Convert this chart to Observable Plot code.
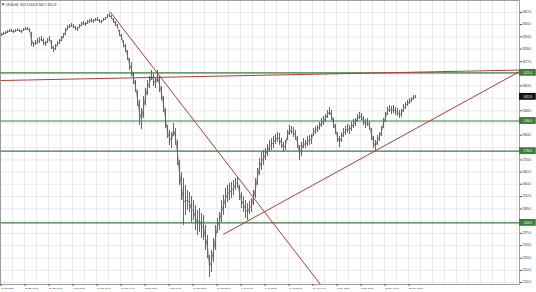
<!DOCTYPE html>
<html><head><meta charset="utf-8">
<script src="https://cdn.jsdelivr.net/npm/d3@7"></script>
<script src="https://cdn.jsdelivr.net/npm/@observablehq/plot@0.6"></script>
<style>html,body{margin:0;padding:0;background:#fff;} svg{display:block}</style>
</head><body><div id="chart"></div>
<script>
const headerText = "US500,H4  3011.8 3014.8 3007.1 3012.8";
const highs = [
3309,3314,3318,3323,3328,3328,3323,3328,3332,3328,3323,3332,3337,3337,3332,
3314,3267,3276,3285,3290,3295,3285,3271,3285,3295,3276,3248,3257,3271,3281,
3295,3309,3332,3346,3351,3356,3351,3342,3337,3351,3360,3365,3360,3370,3374,
3379,3374,3379,3384,3374,3370,3379,3384,3398,3402,3393,3379,3365,3351,3323,
3304,3276,3257,3229,3192,3173,3127,3089,3042,2996,2958,3014,3052,3089,3108,
3136,3117,3099,3136,3108,3061,3014,2958,2879,2856,2846,2888,2865,2809,2715,
2659,2631,2599,2575,2566,2547,2528,2505,2482,2491,2468,2458,2412,2365,2271,
2295,2351,2412,2444,2472,2528,2552,2585,2599,2608,2613,2622,2631,2636,2599,
2566,2547,2528,2514,2524,2538,2575,2631,2678,2725,2753,2762,2771,2790,2809,
2818,2828,2837,2846,2842,2818,2800,2809,2856,2879,2874,2870,2856,2828,2786,
2800,2818,2809,2828,2832,2837,2865,2874,2879,2893,2912,2921,2930,2949,2963,
2949,2912,2884,2846,2828,2846,2865,2874,2884,2879,2893,2907,2912,2930,2940,
2935,2921,2907,2912,2898,2865,2828,2809,2832,2846,2874,2912,2940,2963,2972,
2968,2972,2963,2958,2949,2954,2977,2986,2996,3005,3010,3019,3019];
const lows = [
3295,3300,3304,3309,3314,3314,3309,3314,3318,3314,3309,3318,3323,3323,3314,
3248,3243,3253,3257,3262,3271,3253,3248,3262,3271,3234,3220,3229,3248,3257,
3271,3285,3300,3323,3332,3337,3332,3323,3318,3332,3342,3346,3342,3351,3356,
3360,3356,3365,3365,3356,3356,3365,3370,3379,3384,3374,3356,3342,3332,3295,
3276,3243,3220,3183,3136,3108,3071,3033,2968,2879,2860,2912,2972,3019,3052,
3089,3061,3052,3080,3033,2996,2940,2865,2818,2786,2771,2828,2786,2692,2599,
2528,2412,2458,2482,2472,2426,2435,2388,2365,2379,2351,2342,2295,2257,2169,
2192,2239,2295,2374,2388,2426,2458,2491,2519,2528,2538,2552,2575,2585,2528,
2491,2472,2444,2435,2463,2472,2505,2538,2599,2645,2669,2692,2715,2734,2753,
2762,2771,2790,2800,2786,2771,2753,2762,2809,2832,2837,2823,2809,2771,2715,
2734,2771,2771,2781,2786,2790,2828,2837,2846,2856,2870,2879,2893,2912,2926,
2902,2865,2837,2800,2776,2800,2823,2832,2842,2837,2851,2865,2874,2893,2907,
2902,2879,2865,2874,2856,2809,2771,2757,2786,2804,2828,2865,2893,2926,2940,
2930,2935,2926,2921,2912,2916,2940,2954,2968,2977,2986,2996,3005];
const timeLabels = ["16 Jan 2020","23 Jan 16:00","31 Jan 00:00","7 Feb 08:00","14 Feb 16:00","24 Feb 04:00","2 Mar 12:00","9 Mar 16:00","17 Mar 08:00","24 Mar 20:00","1 Apr 04:00","8 Apr 12:00","16 Apr 20:00","24 Apr 04:00","1 May 12:00","8 May 20:00","18 May 04:00","25 May 12:00"];
const barsPerLabel = 12;
const priceTicks = [3407.0,3350.5,3293.0,3236.0,3177.0,3120.3,3063.5,3005.6,2948.0,2890.9,2834.0,2776.2,2718.0,2661.5,2604.5,2547.0,2489.0,2432.1,2375.0,2318.0,2259.0,2202.0,2145.5];
const levels = [3125.0, 2900.0, 2759.0, 2424.0];
const lastPrice = 3012.8;
const trendStartX = [0, 54.65, 111.35];
const trendStartY = [3089, 3412, 2370];
const trendEndX = [259.5, 160, 259.5];
const trendEndY = [3138, 2136, 3131];

const xMax = 259.5;
const bars = highs.map((h, k) => ({x: k + 0.5, hi: h, lo: lows[k], mid: (h + lows[k]) / 2}));
const trends = trendStartX.map((x, i) => ({x1: x, y1: trendStartY[i], x2: trendEndX[i], y2: trendEndY[i]}));
const labelPos = timeLabels.map((_, j) => j * barsPerLabel);
const gridX = d3.range(0, xMax, barsPerLabel / 2);
const tagHalf = 16;
const tagW = 8.4;
const tagged = [...levels, lastPrice];
const visibleTicks = priceTicks.filter(t => tagged.every(v => Math.abs(v - t) > 24));

const green = "#3e7b3e", red = "#b23b3b";

const chart = Plot.plot({
  width: 536, height: 292,
  marginLeft: 0, marginRight: 17, marginTop: 0, marginBottom: 8,
  style: {fontFamily: "Liberation Sans", background: "#fff", color: "#222"},
  x: {domain: [0, xMax]},
  y: {domain: [2136, 3463]},
  marks: [
    Plot.ruleX(gridX, {stroke: "#e6e6e6", strokeWidth: 0.8}),
    Plot.ruleY(priceTicks, {stroke: "#e6e6e6", strokeWidth: 0.8}),
    Plot.lineY(bars, {x: "x", y: "mid", stroke: "#8c8c8c", strokeWidth: 1}),
    Plot.ruleX(bars, {x: "x", y1: "lo", y2: "hi", stroke: "#666", strokeWidth: 1}),
    Plot.ruleY(levels, {stroke: green, strokeWidth: 1.2}),
    Plot.link(trends, {x1: "x1", y1: "y1", x2: "x2", y2: "y2", stroke: red, strokeWidth: 1}),
    Plot.frame({stroke: "#888", strokeWidth: 0.8}),
    Plot.axisY(visibleTicks, {anchor: "right", tickSize: 2, tickPadding: 1, fontSize: 2.8, tickFormat: d => d.toFixed(1), stroke: "#555"}),
    Plot.axisX(labelPos, {anchor: "bottom", tickSize: 2, tickPadding: 0.8, fontSize: 2.3, textAnchor: "start", dx: 0.5, tickFormat: (d, i) => timeLabels[i], stroke: "#555"}),
    Plot.rect(levels, {x1: () => xMax, x2: () => xMax + tagW, y1: d => d - tagHalf, y2: d => d + tagHalf, fill: green}),
    Plot.text(levels, {x: () => xMax + tagW / 2, y: d => d, text: d => d.toFixed(1), fill: "#fff", fontSize: 2.8}),
    Plot.rect([lastPrice], {x1: () => xMax, x2: () => xMax + tagW, y1: d => d - tagHalf, y2: d => d + tagHalf, fill: "#111"}),
    Plot.text([lastPrice], {x: () => xMax + tagW / 2, y: d => d, text: d => d.toFixed(1), fill: "#fff", fontSize: 2.8}),
    Plot.dot([0], {frameAnchor: "top-left", dx: 2.5, dy: 3.8, symbol: "triangle", r: 1, fill: "#333", rotate: 180}),
    Plot.text([headerText], {frameAnchor: "top-left", dx: 5, dy: 3.8, fontSize: 2.8, textAnchor: "start", fill: "#222"})
  ]
});
document.getElementById("chart").append(chart);
</script>
</body></html>
